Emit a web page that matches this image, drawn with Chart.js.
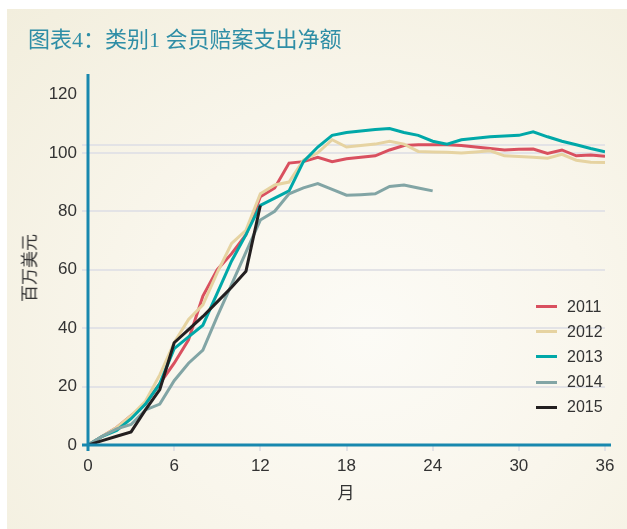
<!DOCTYPE html>
<html>
<head>
<meta charset="utf-8">
<script src="https://cdn.jsdelivr.net/npm/chart.js@4.4.1/dist/chart.umd.min.js"></script>
<style>
  html, body { margin: 0; padding: 0; background: #fff; }
  #wrap { position: relative; width: 627px; height: 529px; overflow: hidden; }
  #panel {
    position: absolute; left: 7px; top: 9px; right: 0; bottom: 0;
    background: radial-gradient(ellipse at 58% 62%, #fcfbf6 0%, #f9f6ec 45%, #f2eedd 100%);
  }
  #chart { position: absolute; left: 0; top: 0; }
  #title {
    position: absolute; left: 28px; top: 21px;
    font: 22px "Liberation Serif", "Noto Sans CJK SC", serif; color: #2f8ea6; white-space: nowrap;
  }
  #ytitle {
    position: absolute; left: 28px; top: 268px; transform: translate(-50%, -50%) rotate(-90deg);
    font: 17px "Noto Sans CJK SC", sans-serif; color: #333; white-space: nowrap;
  }
  #xtitle {
    position: absolute; left: 346px; top: 491px; transform: translate(-50%, -50%);
    font: 17px "Noto Sans CJK SC", sans-serif; color: #333;
  }
  #legend { position: absolute; left: 536px; top: 294px; }
  .row { height: 25.2px; display: flex; align-items: center; }
  .sw { width: 21px; height: 3px; margin-right: 10px; }
  .lb { font: 16px "Liberation Sans", sans-serif; color: #333; }
</style>
</head>
<body>
<div id="wrap">
  <div id="panel"></div>
  <canvas id="chart" width="627" height="529"></canvas>
  <div id="title">图表4：类别1 会员赔案支出净额</div>
  <div id="ytitle">百万美元</div>
  <div id="xtitle">月</div>
  <div id="legend"></div>
</div>
<script>
// months since start of year
const months = [];
for (let i = 0; i <= 36; i++) months.push(i);

const years = ['2011', '2012', '2013', '2014', '2015'];

const y2011 = [0, 3, 6, 10, 14, 21, 28, 36, 51, 60, 65.5, 72, 85, 88, 96.5, 97, 98.5, 97, 98, 98.5, 99,
  101, 102.5, 102.8, 102.8, 102.8, 102.5, 102, 101.5, 101, 101.2, 101.3, 99.8, 101, 99, 99.3, 98.8];
const y2012 = [0, 3, 6, 10, 15, 24, 35, 43, 48, 59, 69, 73.5, 86, 89, 90, 97.5, 100, 104.5, 102, 102.5, 103,
  104, 103, 100.5, 100.3, 100.2, 100, 100.3, 100.7, 99, 98.8, 98.5, 98.2, 99.5, 97.5, 96.8, 96.7];
const y2013 = [0, 3, 5, 9, 14, 21, 33, 37, 41, 52, 63, 72, 82, 84.5, 87, 97, 102, 106, 107, 107.5, 108,
  108.3, 107, 106, 104, 103, 104.5, 105, 105.5, 105.8, 106, 107.2, 105.5, 104, 102.8, 101.5, 100.4];
const y2014 = [0, 3, 5.5, 7, 12, 14, 22, 28, 32.5, 44, 55, 66, 77, 80, 86, 88, 89.5, 87.5, 85.5, 85.7, 86,
  88.5, 89, 88, 87];
const y2015 = [0, 1.5, 3, 4.5, 12, 19, 35, 39.5, 44, 49, 54, 59.5, 82];

const yTicks = [0, 20, 40, 60, 80, 100, 120];
const xTicks = [0, 6, 12, 18, 24, 30, 36];
const refLine = 102.7;

const colors = ['#d9505f', '#e6d3a1', '#00a8a8', '#82a5a5', '#231f20'];
const series = [y2011, y2012, y2013, y2014, y2015];

const datasets = series.map((vals, i) => ({
  label: years[i],
  data: vals.map((v, j) => ({ x: months[j], y: v })),
  borderColor: colors[i],
  backgroundColor: colors[i],
  borderWidth: 3,
  pointRadius: 0,
  tension: 0,
  order: 4 - i
}));

const axisColor = '#1888ae';
const gridColor = '#e3e3e6';

const refLinePlugin = {
  id: 'refLine',
  beforeDatasetsDraw(chart) {
    const { ctx, chartArea } = chart;
    const y = chart.scales.y.getPixelForValue(refLine);
    ctx.save();
    ctx.strokeStyle = gridColor;
    ctx.lineWidth = 2;
    ctx.beginPath();
    ctx.moveTo(chartArea.left - 6, y);
    ctx.lineTo(chartArea.right, y);
    ctx.stroke();
    ctx.restore();
  }
};

const axisLines = {
  id: 'axisLines',
  afterDatasetsDraw(chart) {
    const { ctx, chartArea: { left, top, right, bottom } } = chart;
    ctx.save();
    ctx.strokeStyle = axisColor;
    ctx.lineWidth = 3;
    ctx.beginPath();
    ctx.moveTo(left, top);
    ctx.lineTo(left, bottom + 6);
    ctx.moveTo(left - 6, bottom);
    ctx.lineTo(right + 6, bottom);
    ctx.stroke();
    ctx.restore();
  }
};

new Chart(document.getElementById('chart'), {
  type: 'line',
  data: { datasets },
  options: {
    responsive: false,
    animation: false,
    layout: { padding: { left: 0, right: 22, top: 74, bottom: 0 } },
    plugins: { legend: { display: false }, tooltip: { enabled: false } },
    scales: {
      x: {
        type: 'linear',
        min: 0, max: 36,
        afterFit: s => { s.height = 84; },
        afterBuildTicks: s => { s.ticks = xTicks.map(v => ({ value: v })); },
        border: { display: false },
        grid: {
          drawOnChartArea: false, drawTicks: true, tickLength: 6, lineWidth: 2,
          color: c => c.tick && c.tick.value === 0 ? 'rgba(0,0,0,0)' : gridColor
        },
        ticks: { padding: 5, color: '#333', font: { family: 'Liberation Sans', size: 17 } }
      },
      y: {
        min: 0, max: 127,
        afterFit: s => { s.width = 88; },
        afterBuildTicks: s => { s.ticks = yTicks.map(v => ({ value: v })); },
        border: { display: false },
        grid: {
          tickLength: 6, lineWidth: 2,
          color: c => {
            if (!c.tick) return gridColor;
            if (c.tick.value === 120) return 'rgba(0,0,0,0)';
            if (c.tick.value === 0) return axisColor;
            return gridColor;
          }
        },
        ticks: { padding: 5, color: '#333', font: { family: 'Liberation Sans', size: 17 } }
      }
    }
  },
  plugins: [refLinePlugin, axisLines]
});

// legend
const legend = document.getElementById('legend');
datasets.forEach(d => {
  const row = document.createElement('div');
  row.className = 'row';
  row.innerHTML = '<div class="sw" style="background:' + d.borderColor + '"></div><span class="lb">' + d.label + '</span>';
  legend.appendChild(row);
});
</script>
</body>
</html>
